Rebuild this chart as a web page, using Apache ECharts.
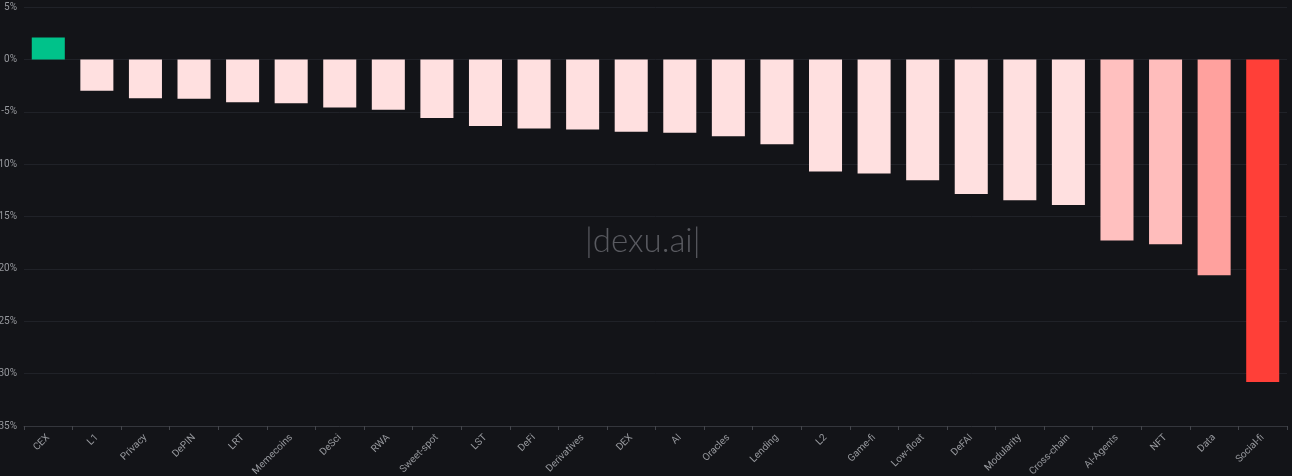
<!DOCTYPE html>
<html>
<head>
<meta charset="utf-8">
<script src="https://cdn.jsdelivr.net/npm/echarts@6/dist/echarts.min.js"></script>
<style>
html,body{margin:0;padding:0;background:#131418;}
#chart{width:1292px;height:476px;}
</style>
</head>
<body>
<div id="chart"></div>
<script>
const categories = ["CEX","L1","Privacy","DePIN","LRT","Memecoins","DeSci","RWA","Sweet-spot","LST","DeFi","Derivatives","DEX","AI","Oracles","Lending","L2","Game-fi","Low-float","DeFAI","Modularity","Cross-chain","AI-Agents","NFT","Data","Social-fi"];
const changes = [2.1,-3.0,-3.7,-3.75,-4.1,-4.2,-4.6,-4.8,-5.6,-6.35,-6.6,-6.7,-6.9,-7.0,-7.35,-8.1,-10.7,-10.9,-11.55,-12.85,-13.45,-13.9,-17.3,-17.65,-20.6,-30.8];
const yTicks = {min:-35, max:5, interval:5};

function colorFor(v){
  if (v >= 0) return '#00c28a';
  let t = (-v - 14) / (30.8 - 14);
  t = Math.max(0, Math.min(1, t));
  const lerp = (a,b)=>Math.round(a + (b-a)*t);
  const g = lerp(224, 63), b = lerp(224, 56);
  return 'rgb(255,' + g + ',' + b + ')';
}

const chart = echarts.init(document.getElementById('chart'), null, {renderer:'canvas'});
chart.setOption({
  backgroundColor:'#131418',
  animation:false,
  grid:{left:24, right:5, top:7, bottom:50, containLabel:false, outerBoundsMode:'none'},
  xAxis:{
    type:'category',
    data:categories,
    position:'bottom',
    axisLine:{onZero:false, lineStyle:{color:'#34363c'}},
    axisTick:{show:true, lineStyle:{color:'#44464c'}, length:4},
    axisLabel:{rotate:45, color:'#96989d', fontSize:10, fontFamily:'Roboto, sans-serif', margin:10, interval:0}
  },
  yAxis:{
    type:'value',
    min:yTicks.min, max:yTicks.max, interval:yTicks.interval,
    axisLine:{show:false},
    axisTick:{show:false},
    splitLine:{lineStyle:{color:'#202228', width:1}},
    axisLabel:{formatter:'{value}%', color:'#96989d', fontSize:10, fontFamily:'Roboto, sans-serif', margin:7}
  },
  graphic:[{
    type:'text',
    left:585,
    top:225,
    style:{text:'|dexu.ai|', fill:'#595a60', font:'300 33px "Lato", "Open Sans", sans-serif'},
    z:0
  }],
  series:[{
    type:'bar',
    barWidth:'68%',
    z:5,
    data:changes.map(v=>({value:v, itemStyle:{color:colorFor(v)}}))
  }]
});
</script>
</body>
</html>
